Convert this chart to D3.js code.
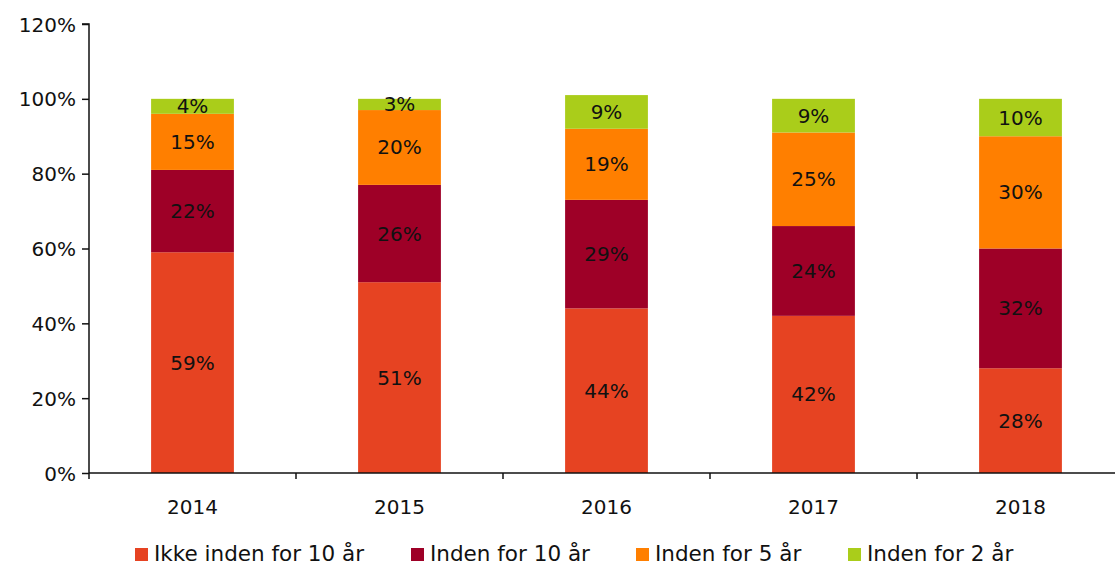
<!DOCTYPE html>
<html>
<head>
<meta charset="utf-8">
<script src="https://cdn.jsdelivr.net/npm/d3@7"></script>
<style>
  body { margin: 0; background: #fff; }
  text { font-family: "DejaVu Sans", sans-serif; fill: #111; }
</style>
</head>
<body>
<svg id="chart" width="1115" height="567"></svg>
<script>
const years = ['2014', '2015', '2016', '2017', '2018'];
const seriesNames = ['Ikke inden for 10 år', 'Inden for 10 år', 'Inden for 5 år', 'Inden for 2 år'];
const ikke10 = [59, 51, 44, 42, 28];
const inden10 = [22, 26, 29, 24, 32];
const inden5 = [15, 20, 19, 25, 30];
const inden2 = [4, 3, 9, 9, 10];
const yTicks = [0, 20, 40, 60, 80, 100, 120];
const colors = ['#e64322', '#9e0027', '#ff7f00', '#aacd1a'];

const svg = d3.select('#chart');

// rows for the stack
const rows = years.map((y, i) => ({
  year: y,
  [seriesNames[0]]: ikke10[i],
  [seriesNames[1]]: inden10[i],
  [seriesNames[2]]: inden5[i],
  [seriesNames[3]]: inden2[i]
}));

const x = d3.scaleBand().domain(years).range([89, 1124]).paddingInner(0).paddingOuter(0);
const y = d3.scaleLinear().domain([0, 120]).range([473, 24]);
const barW = x.bandwidth() * 0.4;

const stacked = d3.stack().keys(seriesNames)(rows);

const layers = svg.selectAll('g.layer')
  .data(stacked)
  .join('g')
  .attr('class', 'layer')
  .attr('fill', (d, i) => colors[i]);

layers.selectAll('rect')
  .data(d => d)
  .join('rect')
  .attr('x', d => x(d.data.year) + (x.bandwidth() - barW) / 2)
  .attr('width', barW)
  .attr('y', d => y(d[1]))
  .attr('height', d => y(d[0]) - y(d[1]));

// value labels
layers.selectAll('text')
  .data(d => d.map(v => ({ v, key: d.key })))
  .join('text')
  .attr('x', d => x(d.v.data.year) + x.bandwidth() / 2)
  .attr('y', d => (y(d.v[0]) + y(d.v[1])) / 2 + 7)
  .attr('text-anchor', 'middle')
  .attr('font-size', 20)
  .text(d => d.v.data[d.key] + '%');

// y axis
const yAxis = svg.append('g')
  .attr('transform', 'translate(89,0)')
  .call(d3.axisLeft(y).tickValues(yTicks).tickFormat(d => d + '%').tickSize(7).tickPadding(6));
yAxis.selectAll('text').attr('font-size', 20).attr('dy', '0.35em');
yAxis.select('.domain').attr('stroke', '#111').attr('stroke-width', 1.5).attr('d', 'M-7,24H0V473');
yAxis.selectAll('.tick line').attr('stroke', '#111').attr('stroke-width', 1.5);

// x axis
const xAxis = svg.append('g').attr('transform', 'translate(0,473)');
xAxis.append('line')
  .attr('x1', 89).attr('x2', 1115)
  .attr('stroke', '#111').attr('stroke-width', 1.5);
xAxis.selectAll('line.tk')
  .data(years)
  .join('line')
  .attr('class', 'tk')
  .attr('x1', d => x(d)).attr('x2', d => x(d))
  .attr('y1', 0).attr('y2', 6)
  .attr('stroke', '#111').attr('stroke-width', 1.5);
xAxis.selectAll('text')
  .data(years)
  .join('text')
  .attr('x', d => x(d) + x.bandwidth() / 2)
  .attr('y', 41)
  .attr('text-anchor', 'middle')
  .attr('font-size', 20)
  .text(d => d);

// legend
const legendX = [135, 411, 636, 848];
const legend = svg.append('g');
const li = legend.selectAll('g')
  .data(seriesNames)
  .join('g')
  .attr('transform', (d, i) => `translate(${legendX[i]},548)`);
li.append('rect').attr('width', 13).attr('height', 13).attr('fill', (d, i) => colors[i]);
li.append('text').attr('x', 19).attr('y', 13).attr('font-size', 21.5).text(d => d);
</script>
</body>
</html>
